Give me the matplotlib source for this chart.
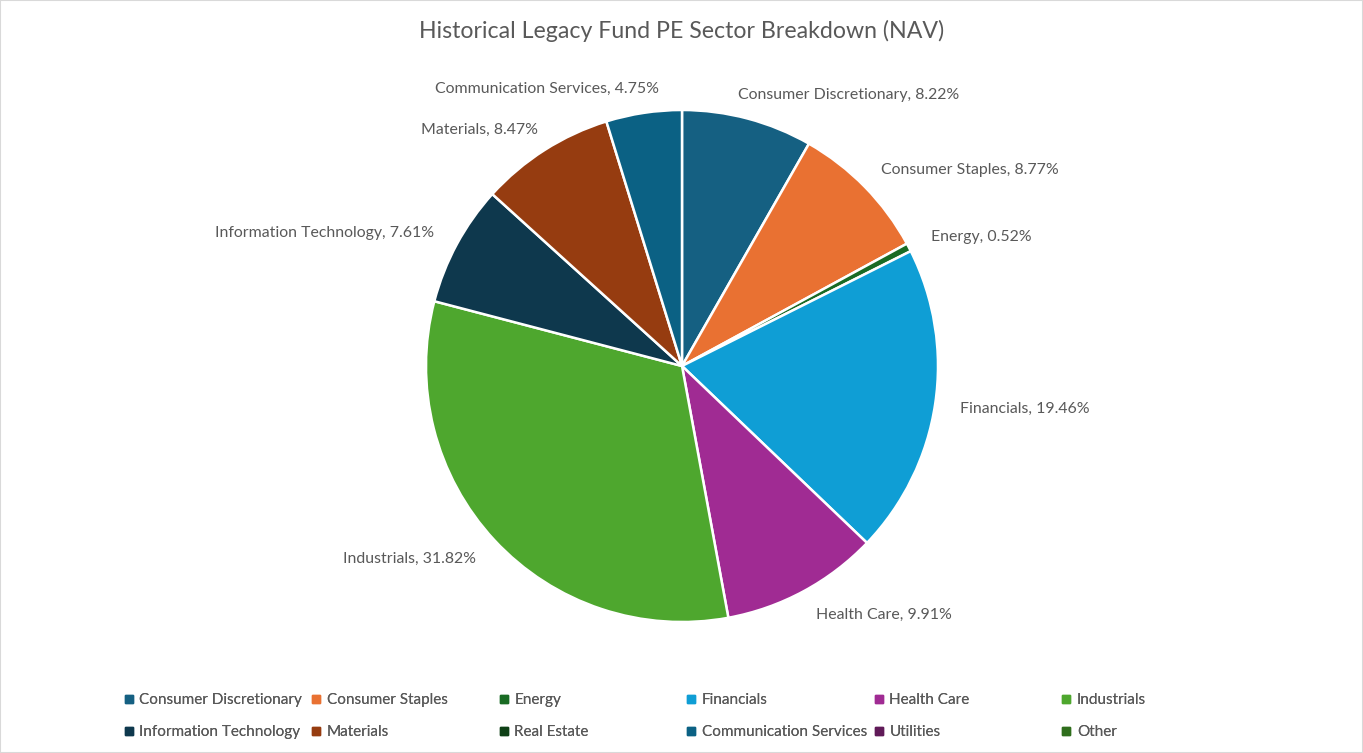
import matplotlib
matplotlib.use('Agg')
import matplotlib.pyplot as plt
from matplotlib.lines import Line2D
from matplotlib.patches import Rectangle
import numpy as np

plt.rcParams['font.family'] = ['Lato', 'DejaVu Sans']

sectors = ['Consumer Discretionary', 'Consumer Staples', 'Energy', 'Financials',
           'Health Care', 'Industrials', 'Information Technology', 'Materials',
           'Real Estate', 'Communication Services', 'Utilities', 'Other']
nav_pct = [8.22, 8.77, 0.52, 19.46, 9.91, 31.82, 7.61, 8.47, 0.0, 4.75, 0.0, 0.0]
colors = ['#156082', '#E97132', '#196B24', '#0F9ED5', '#A02B93', '#4EA72E',
          '#0E384D', '#963C10', '#0F4016', '#0B6184', '#601A58', '#2F6E1C']

text_col = '#595959'

fig = plt.figure(figsize=(13.63, 7.53), dpi=100)
fig.patch.set_facecolor('white')
fig.patches.append(Rectangle((0, 0), 1, 1, transform=fig.transFigure,
                             fill=False, edgecolor='#D9D9D9', lw=1.5))

fig.text(0.5, 1 - 31 / 753, 'Historical Legacy Fund PE Sector Breakdown (NAV)',
         ha='center', va='center', fontsize=16.7, color=text_col)

ax = fig.add_axes([426 / 1363, 1 - 622 / 753, 512 / 1363, 512 / 753])
vals = [v for v in nav_pct if v > 0]
cols = [c for v, c in zip(nav_pct, colors) if v > 0]
names = [n for v, n in zip(nav_pct, sectors) if v > 0]
wedges, _ = ax.pie(vals, colors=cols, startangle=90, counterclock=False,
                   radius=1, wedgeprops=dict(edgecolor='white', linewidth=1.8))
ax.set_xlim(-1, 1)
ax.set_ylim(-1, 1)
ax.set_aspect('equal')
ax.axis('off')

for w, n, v in zip(wedges, names, vals):
    ang = np.deg2rad((w.theta1 + w.theta2) / 2)
    x, y = 1.1 * np.cos(ang), 1.1 * np.sin(ang)
    # labels near the top sit a little closer to the centre line
    x -= 0.08 * np.sign(x) * max(0, np.sin(ang)) ** 6
    ha = 'left' if x > 0 else 'right'
    ax.text(x, y, f'{n}, {v:.2f}%', ha=ha, va='center_baseline', fontsize=11.4,
            color=text_col, clip_on=False)

# legend: 6 evenly spaced columns, row-major order
handles = [Line2D([], [], marker='s', ls='', color=c, markersize=6) for c in colors]
ncols = 6
for c in range(ncols):
    idx = [c, c + ncols]
    leg = fig.legend([handles[i] for i in idx], [sectors[i] for i in idx],
                     loc='upper left',
                     bbox_to_anchor=((124 + c * 187.5) / 1363, 1 - 693 / 753),
                     frameon=False, fontsize=11, labelcolor=text_col,
                     handlelength=0.6, handletextpad=0.4, labelspacing=1.2,
                     borderaxespad=0, borderpad=0)
    fig.add_artist(leg)

fig.savefig('out.png', dpi=100)
